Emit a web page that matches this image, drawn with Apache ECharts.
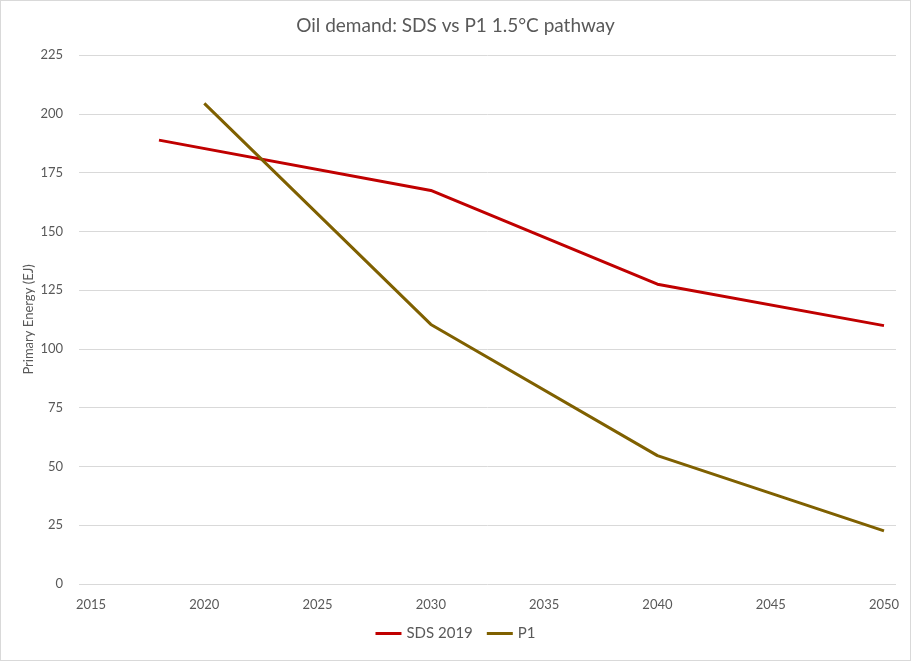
<!DOCTYPE html>
<html>
<head>
<meta charset="UTF-8">
<title>Oil demand</title>
<style>
  html, body { margin: 0; padding: 0; background: #fff; }
  #chart {
    width: 909px; height: 659px;
    border: 1px solid #d9d9d9;
  }
</style>
</head>
<body>
<div id="chart"></div>
<script src="https://cdn.jsdelivr.net/npm/echarts@6/dist/echarts.min.js"></script>
<script>
// data
var sdsYears = [2018, 2030, 2040, 2050];
var sdsValues = [188.8, 167.4, 127.5, 109.9];
var p1Years = [2020, 2030, 2040, 2050];
var p1Values = [204.4, 110.4, 54.6, 22.6];
var xTicks = [2015, 2020, 2025, 2030, 2035, 2040, 2045, 2050];

var font = 'Lato, "Open Sans", sans-serif';
var grey = '#595959';

function pairs(xs, ys) {
  return xs.map(function (x, i) { return [x, ys[i]]; });
}

var chart = echarts.init(document.getElementById('chart'));
chart.setOption({
  animation: false,
  textStyle: { fontFamily: font },
  title: {
    text: 'Oil demand: SDS vs P1 1.5°C pathway',
    left: 'center', top: 10,
    textStyle: { fontFamily: font, fontSize: 19, fontWeight: 'normal', color: grey }
  },
  legend: {
    bottom: 14, left: 'center',
    itemWidth: 26, itemHeight: 3, itemGap: 14,
    icon: 'rect',
    textStyle: { fontFamily: font, fontSize: 15, color: grey }
  },
  grid: { left: 78, right: 14, top: 54, bottom: 76 },
  xAxis: {
    type: 'value',
    min: 2014.47, max: 2050.53,
    axisLine: { show: false },
    axisTick: { show: false },
    splitLine: { show: false },
    axisLabel: {
      customValues: xTicks,
      formatter: function (v) { return String(v); },
      color: grey, fontSize: 13, fontFamily: font, margin: 14
    }
  },
  yAxis: {
    type: 'value',
    min: 0, max: 225, interval: 25,
    name: 'Primary Energy (EJ)',
    nameLocation: 'middle', nameGap: 44,
    nameMoveOverlap: false,
    nameTextStyle: { color: grey, fontSize: 13, fontFamily: font },
    axisLine: { show: false },
    axisTick: { show: false },
    axisLabel: { color: grey, fontSize: 13, fontFamily: font, margin: 16 },
    splitLine: { lineStyle: { color: '#d9d9d9', width: 1 } }
  },
  series: [
    {
      name: 'SDS 2019', type: 'line',
      data: pairs(sdsYears, sdsValues),
      showSymbol: false,
      lineStyle: { color: '#c00000', width: 3 },
      itemStyle: { color: '#c00000' }
    },
    {
      name: 'P1', type: 'line',
      data: pairs(p1Years, p1Values),
      showSymbol: false,
      lineStyle: { color: '#7f6000', width: 3 },
      itemStyle: { color: '#7f6000' }
    }
  ]
});
</script>
</body>
</html>
